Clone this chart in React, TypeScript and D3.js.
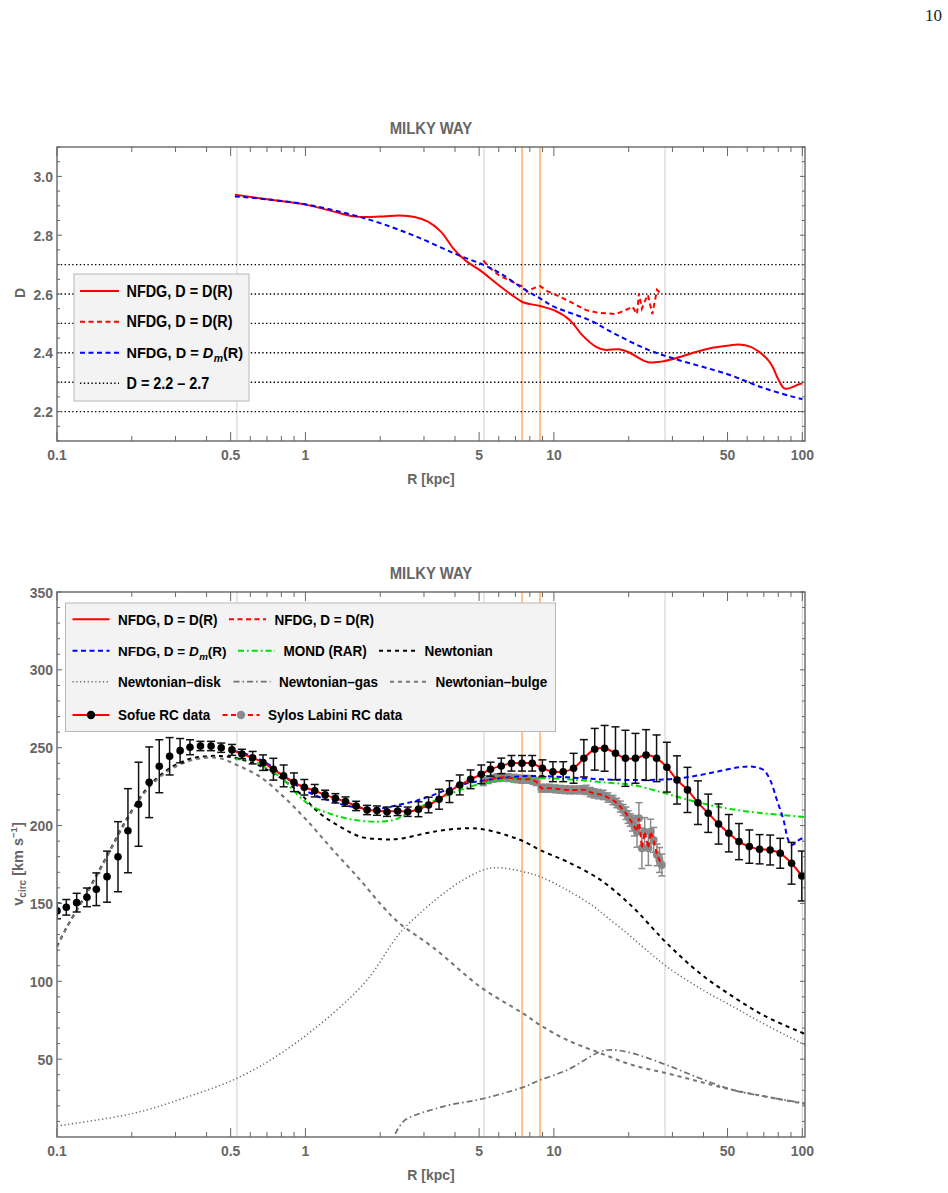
import { useEffect, useRef } from 'react';
import * as d3 from 'd3';

// ---- fractal dimension panel ----
const fitR = [0.52, 0.7, 1.0, 1.29, 1.56, 1.77, 2.06, 2.4, 2.75, 3.1, 3.5, 3.98, 4.47, 5.02, 6.0, 7.0, 7.5, 8.8, 10.0, 11.6, 13.0, 14.8, 16.0, 18.3, 20.0, 22.0, 24.0, 27.0, 30.5, 37.3, 44.0, 50.8, 55.6, 62.0, 67.0, 72.0, 76.0, 80.0, 85.0, 97.0, 100.0];
const fitD = [2.938, 2.922, 2.904, 2.881, 2.864, 2.862, 2.864, 2.867, 2.862, 2.847, 2.813, 2.75, 2.71, 2.682, 2.63, 2.588, 2.572, 2.559, 2.545, 2.511, 2.46, 2.42, 2.41, 2.412, 2.402, 2.382, 2.368, 2.37, 2.38, 2.403, 2.418, 2.425, 2.428, 2.42, 2.403, 2.38, 2.352, 2.31, 2.278, 2.293, 2.296];

const slDR = [5.2, 5.5, 6.04, 6.5, 7.0, 7.5, 7.8, 8.3, 8.8, 9.4, 10.06, 11.6, 13.5, 15.1, 17.8, 20.1, 20.7, 21.6, 22.0, 22.6, 23.2, 23.9, 24.9, 26.0, 27.2];
const slDD = [2.714, 2.69, 2.662, 2.65, 2.636, 2.625, 2.608, 2.62, 2.627, 2.61, 2.599, 2.574, 2.545, 2.536, 2.532, 2.551, 2.557, 2.532, 2.602, 2.55, 2.574, 2.597, 2.532, 2.614, 2.597];

const meanR = [0.52, 0.7, 1.0, 1.5, 2.0, 2.8, 4.0, 5.2, 6.1, 7.5, 8.8, 10.0, 13.9, 18.0, 24.0, 30.5, 50.0, 70.0, 94.0, 100.0];
const meanD = [2.932, 2.922, 2.905, 2.872, 2.841, 2.795, 2.737, 2.699, 2.67, 2.619, 2.585, 2.557, 2.511, 2.46, 2.41, 2.38, 2.327, 2.28, 2.248, 2.243];

const dBand = [2.2, 2.3, 2.4, 2.5, 2.6, 2.7];
const dMajor = [2.2, 2.4, 2.6, 2.8, 3.0];

// ---- rotation curve panel ----
const sofueR = [0.1, 0.109, 0.12, 0.132, 0.144, 0.159, 0.176, 0.193, 0.213, 0.235, 0.258, 0.284, 0.313, 0.343, 0.378, 0.417, 0.458, 0.506, 0.555, 0.613, 0.675, 0.743, 0.817, 0.899, 0.99, 1.09, 1.2, 1.32, 1.45, 1.6, 1.77, 1.94, 2.13, 2.35, 2.58, 2.85, 3.13, 3.45, 3.8, 4.18, 4.62, 5.1, 5.56, 6.14, 6.75, 7.44, 8.18, 8.99, 9.91, 10.9, 12.0, 13.2, 14.6, 16.0, 17.7, 19.4, 21.3, 23.5, 25.9, 28.5, 31.3, 34.5, 38.0, 41.8, 46.0, 50.6, 55.6, 61.2, 67.3, 74.2, 81.5, 90.5, 99.5];
const sofueV = [145.2, 147.5, 150.5, 153.9, 159.1, 167.2, 180.0, 196.7, 213.7, 227.8, 238.1, 244.5, 248.1, 250.3, 251.1, 251.1, 250.0, 248.6, 246.0, 243.6, 240.4, 236.2, 231.9, 227.8, 224.6, 222.4, 219.7, 217.5, 215.4, 212.6, 210.0, 209.6, 208.9, 209.4, 208.9, 210.5, 213.2, 216.9, 221.8, 226.1, 229.7, 232.9, 236.2, 238.3, 240.0, 240.0, 240.0, 236.8, 234.6, 234.6, 236.8, 243.2, 249.0, 249.6, 246.4, 243.2, 243.2, 245.3, 243.2, 237.5, 229.3, 222.9, 214.7, 207.9, 201.0, 195.1, 189.7, 186.5, 184.8, 184.3, 182.2, 175.8, 167.6];
const sofueErr = [5, 5, 6, 6, 10.5, 16.4, 22.5, 27, 27, 22.7, 17, 12, 7.8, 4.8, 3, 3, 3, 3.5, 3, 4, 5, 7, 7, 6, 5, 4, 3, 3, 3, 3, 3, 3, 3, 3, 3, 4.8, 5, 6.4, 7, 6.4, 6, 6, 4.5, 5, 5, 5, 5, 5.4, 6.4, 6.4, 9.6, 12, 13.4, 14.7, 17, 18, 16, 16.3, 15, 16, 15.5, 14.5, 14, 12.3, 12.9, 12, 11.6, 10.7, 9.4, 9.6, 9.6, 13.4, 16];

const sylosR = [5.2, 5.45, 5.7, 5.95, 6.2, 6.55, 6.9, 7.15, 7.4, 7.7, 8.0, 8.25, 8.5, 8.9, 9.25, 9.6, 10.1, 10.6, 11.1, 11.6, 12.1, 12.7, 13.1, 13.5, 14.0, 14.5, 15.1, 15.8, 16.5, 17.3, 17.9, 18.5, 19.0, 19.5, 19.9, 20.3, 20.7, 21.1, 21.6, 22.0, 22.6, 23.2, 24.0, 24.5, 25.2, 26.0, 26.6, 27.2];
const sylosV = [228.2, 229.5, 230.4, 230.8, 231.0, 230.8, 230.4, 230.0, 229.7, 229.7, 229.7, 229.0, 228.2, 224.0, 224.0, 224.0, 223.6, 223.3, 223.0, 222.9, 222.9, 222.9, 223.0, 222.9, 221.5, 220.7, 220.2, 219.7, 218.0, 216.4, 214.5, 212.2, 210.0, 207.9, 205.5, 203.6, 201.5, 199.3, 196.1, 204.7, 185.4, 196.1, 185.4, 196.1, 190.8, 181.2, 177.9, 174.7];
const sylosErr = [2.5, 2.5, 2.5, 2.5, 2.5, 2.5, 2.5, 2.5, 2.5, 2.5, 2.5, 2.5, 2.5, 2.5, 2.5, 2.5, 2.5, 2.5, 2.5, 2.5, 2.5, 2.5, 2.5, 3, 3, 3, 3, 3, 3, 3, 3, 3.5, 3.5, 4, 4, 4, 5, 6, 10, 10, 13, 9, 11, 8, 8, 7, 8, 7];

const dmR = [0.52, 0.6, 0.7, 0.8, 0.9, 1.0, 1.13, 1.29, 1.45, 1.77, 2.0, 2.41, 2.8, 3.28, 3.83, 4.48, 5.36, 6.6, 8.3, 11.3, 15.4, 20.7, 28.5, 35.5, 45.3, 56.0, 63.3, 69.8, 74.2, 79.0, 84.0, 87.7, 90.5, 98.0, 102.5];
const dmV = [247.8, 245, 240, 233, 227, 222.5, 218.5, 215.5, 213, 211, 211, 213.5, 216, 219.7, 224, 227.2, 229.3, 231.0, 231.9, 231.0, 229.7, 229.3, 229.7, 231.4, 234.6, 237.5, 237.8, 235.7, 229.3, 216.4, 203.6, 190.8, 187.5, 191.2, 192];

const mondR = [0.52, 0.6, 0.7, 0.82, 0.89, 1.04, 1.22, 1.52, 1.94, 2.27, 2.45, 2.9, 3.5, 4.2, 5.2, 6.6, 9.1, 12.3, 16.4, 20.7, 26.6, 33.0, 45.3, 61.2, 102.5];
const mondV = [242.6, 242, 236.8, 229.3, 222.9, 213.2, 208.3, 204.1, 202.5, 203.6, 206, 212.2, 217.5, 222.9, 227.2, 229.7, 230.4, 229.3, 227.6, 226.1, 221.8, 217.5, 212.2, 208.9, 205.5];

const newtR = [0.1, 0.109, 0.132, 0.159, 0.191, 0.23, 0.277, 0.333, 0.378, 0.454, 0.53, 0.656, 0.815, 0.95, 1.14, 1.38, 1.66, 2.05, 2.4, 3.28, 4.48, 5.36, 6.6, 7.5, 8.8, 11.3, 15.4, 20.7, 25.0, 28.5, 38.7, 52.6, 71.5, 102.5];
const newtV = [122.4, 134.2, 157, 180.6, 204.3, 223.7, 235.6, 242.2, 244.2, 244.7, 243.2, 238.3, 229.3, 220.7, 207.9, 199.3, 192.9, 191.2, 191.5, 196.1, 198.3, 197.2, 193.3, 190.1, 184.3, 176.8, 165.1, 147.9, 134.0, 124.4, 105.1, 90.1, 77.3, 66.2];

const diskR = [0.1, 0.203, 0.323, 0.53, 0.815, 1.29, 1.77, 2.4, 3.0, 3.5, 4.2, 5.2, 5.87, 7.5, 8.8, 11.3, 14.5, 16.4, 20.0, 24.0, 28.5, 38.7, 52.6, 71.5, 102.5];
const diskV = [7.1, 15.2, 24.9, 37.7, 54.8, 79.4, 100.8, 131, 146, 155, 164, 171.5, 173, 170.4, 167.2, 158.6, 147.9, 141, 130, 119, 109.4, 95.5, 83.7, 71.9, 59.1];

const gasR = [2.3, 2.35, 2.45, 2.55, 2.9, 3.28, 3.81, 5.05, 7.5, 8.8, 11.3, 15.4, 17.3, 20.7, 28.5, 38.7, 52.6, 71.5, 102.5];
const gasV = [2, 5, 9, 11.5, 15.2, 17.8, 20.6, 24.2, 31.9, 36.6, 43.0, 54.8, 55.9, 53.8, 46.2, 37.7, 30.2, 25.9, 21.6];

const bulgeR = [0.1, 0.109, 0.132, 0.159, 0.191, 0.23, 0.277, 0.333, 0.4, 0.454, 0.53, 0.656, 0.815, 1.01, 1.29, 1.66, 2.05, 2.4, 3.28, 5.05, 7.5, 8.8, 11.3, 15.4, 20.7, 28.5, 38.7, 52.6, 71.5, 102.5];
const bulgeV = [122.2, 134, 156.5, 180, 203.6, 222.9, 234.6, 241.0, 243.6, 243.2, 238.9, 231.4, 218.6, 203.6, 184.3, 165.1, 147.9, 137, 121.5, 96.5, 79.4, 71.9, 62.3, 53.8, 46.2, 40.9, 35.5, 30.2, 25.9, 21.2];

const vMajor = [50, 100, 150, 200, 250, 300, 350];

// ---- shared axis marks ----
const rMajor = [0.1, 0.5, 1, 5, 10, 50, 100];
const rMajorLabels = ['0.1', '0.5', '1', '5', '10', '50', '100'];
const rMinor = [0.2, 0.3, 0.4, 0.6, 0.7, 0.8, 0.9, 2, 3, 4, 6, 7, 8, 9, 20, 30, 40, 60, 70, 80, 90];
const edgeR = [0.53, 5.23, 28, 100];
const sunR = [7.45, 8.8];

const FONT = '"Liberation Sans", Arial, Helvetica, sans-serif';
const AXIS_GRAY = '#666';

type Style = { stroke: string; width: number; dash?: string };
const STY: Record<string, Style> = {
  fit: { stroke: '#ff0000', width: 2 },
  fitSL: { stroke: '#ff0000', width: 2, dash: '5,3.5' },
  dm: { stroke: '#0000ff', width: 2, dash: '5,3.5' },
  mond: { stroke: '#00e000', width: 2, dash: '6,3,1.8,3' },
  newt: { stroke: '#000', width: 2, dash: '4,4' },
  disk: { stroke: '#666', width: 1.5, dash: '1.2,2.6' },
  gas: { stroke: '#707070', width: 1.7, dash: '6,3,1.6,3' },
  bulge: { stroke: '#777', width: 2.1, dash: '4,4' },
  band: { stroke: '#000', width: 1.4, dash: '1.4,2.4' },
};

const zip = (xs: number[], ys: number[]) => xs.map((r, i) => [r, ys[i]] as [number, number]);

function applyStyle(sel: any, s: Style) {
  sel.attr('fill', 'none').attr('stroke', s.stroke).attr('stroke-width', s.width);
  if (s.dash) sel.attr('stroke-dasharray', s.dash);
  return sel;
}

// narrow the bold sans labels a little, the plot font is a tall condensed one
function squeeze(sel: any, k = 0.9) {
  sel.each(function (this: SVGTextElement) {
    if (this.querySelector('tspan')) return;
    const w = this.getComputedTextLength();
    this.setAttribute('textLength', String(w * k));
    this.setAttribute('lengthAdjust', 'spacingAndGlyphs');
  });
}

function drawFrame(g: any, x: any, y: any, yMajor: number[], yMinor: number[], fmt: (v: number) => string, title: string, yLabel: (t: any) => void, clipId: string) {
  const [x0, x1] = x.range();
  const [yb, yt] = y.range();

  g.append('clipPath').attr('id', clipId)
    .append('rect').attr('x', x0).attr('y', yt).attr('width', x1 - x0).attr('height', yb - yt);

  const ticks = g.append('g').attr('stroke', AXIS_GRAY).attr('stroke-width', 1);
  const xt = (list: number[], len: number) => list.forEach((t) => {
    ticks.append('line').attr('x1', x(t)).attr('x2', x(t)).attr('y1', yb).attr('y2', yb - len);
    ticks.append('line').attr('x1', x(t)).attr('x2', x(t)).attr('y1', yt).attr('y2', yt + len);
  });
  xt(rMinor, 5);
  xt(rMajor, 9);
  const yTick = (list: number[], len: number) => list.forEach((t) => {
    ticks.append('line').attr('x1', x0).attr('x2', x0 + len).attr('y1', y(t)).attr('y2', y(t));
    ticks.append('line').attr('x1', x1).attr('x2', x1 - len).attr('y1', y(t)).attr('y2', y(t));
  });
  yTick(yMinor, 3);
  yTick(yMajor, 5);

  g.append('rect').attr('x', x0).attr('y', yt).attr('width', x1 - x0).attr('height', yb - yt)
    .attr('fill', 'none').attr('stroke', AXIS_GRAY).attr('stroke-width', 1.4);

  const lab = g.append('g').attr('font-family', FONT).attr('font-weight', 'bold').attr('fill', AXIS_GRAY).attr('font-size', 15.5);
  rMajor.forEach((t, i) => {
    lab.append('text').attr('x', x(t)).attr('y', yb + 19).attr('text-anchor', 'middle').text(rMajorLabels[i]);
  });
  yMajor.forEach((t) => {
    lab.append('text').attr('x', x0 - 4).attr('y', y(t)).attr('dy', '0.36em').attr('text-anchor', 'end').text(fmt(t));
  });
  lab.append('text').attr('x', (x0 + x1) / 2).attr('y', yb + 43).attr('text-anchor', 'middle').text('R [kpc]');
  lab.append('text').attr('x', (x0 + x1) / 2).attr('y', yt - 13).attr('text-anchor', 'middle').attr('font-size', 16.5).text(title);
  yLabel(lab);
}

function refLines(g: any, x: any, y: any) {
  const [yb, yt] = y.range();
  edgeR.forEach((r) => {
    g.append('line').attr('x1', x(r)).attr('x2', x(r)).attr('y1', yt).attr('y2', yb)
      .attr('stroke', '#cfcfcf').attr('stroke-width', 1);
  });
  sunR.forEach((r) => {
    g.append('line').attr('x1', x(r)).attr('x2', x(r)).attr('y1', yt).attr('y2', yb)
      .attr('stroke', '#ffc088').attr('stroke-width', 2);
  });
}

function sample(g: any, x0: number, yc: number, len: number, s: Style) {
  applyStyle(g.append('line').attr('x1', x0).attr('x2', x0 + len).attr('y1', yc).attr('y2', yc), s);
}

// label "NFDG, D = D_m(R)" with an italic subscripted D_m
function dmLabel(t: any, size: number) {
  t.attr('font-size', size);
  t.append('tspan').text('NFDG, D = ');
  t.append('tspan').attr('font-style', 'italic').text('D');
  t.append('tspan').attr('font-style', 'italic').attr('font-size', size * 0.72).attr('dx', 0.5).attr('dy', 4).text('m');
  t.append('tspan').attr('dy', -4).text('(R)');
}

function drawDimension(root: any) {
  const x = d3.scaleLog().domain([0.1, 102.5]).range([57, 805]);
  const y = d3.scaleLinear().domain([2.1, 3.1]).range([441, 147]);
  const g = root.append('g');
  const plot = g.append('g').attr('clip-path', 'url(#clipD)');

  refLines(plot, x, y);
  dBand.forEach((d) => {
    applyStyle(plot.append('line').attr('x1', 57).attr('x2', 805).attr('y1', y(d)).attr('y2', y(d)), STY.band);
  });

  const line = d3.line<[number, number]>().x((d) => x(d[0])).y((d) => y(d[1])).curve(d3.curveCatmullRom.alpha(0.5));
  const jagged = d3.line<[number, number]>().x((d) => x(d[0])).y((d) => y(d[1]));
  applyStyle(plot.append('path').attr('d', line(zip(fitR, fitD))), STY.fit);
  applyStyle(plot.append('path').attr('d', jagged(zip(slDR, slDD))), STY.fitSL);
  applyStyle(plot.append('path').attr('d', line(zip(meanR, meanD))), STY.dm);

  // legend
  const lg = g.append('g');
  lg.append('rect').attr('x', 74).attr('y', 274).attr('width', 175).attr('height', 127)
    .attr('fill', '#f3f3f3').attr('stroke', '#b8b8b8').attr('stroke-width', 1);
  const rows: [string, number][] = [['fit', 291], ['fitSL', 321.7], ['dm', 352.7], ['band', 383.3]];
  rows.forEach(([k, yc]) => sample(lg, 80, yc, 39, STY[k]));
  const txt = (yc: number) => lg.append('text').attr('x', 126.5).attr('y', yc).attr('dy', '0.36em')
    .attr('font-family', FONT).attr('font-weight', 'bold').attr('font-size', 16).attr('fill', '#000');
  txt(291).text('NFDG, D = D(R)');
  txt(321.7).text('NFDG, D = D(R)');
  dmLabel(txt(352.7), 14.5);
  txt(383.3).text('D = 2.2 \u2013 2.7');

  drawFrame(g, x, y, dMajor, d3.range(2.1, 3.1001, 0.05).filter((v) => !dMajor.some((m) => Math.abs(m - v) < 1e-6)),
    (v) => v.toFixed(1), 'MILKY WAY', (lab) => {
      lab.append('text').attr('transform', 'translate(25,293) rotate(-90)').attr('text-anchor', 'middle').text('D');
    }, 'clipD');
}

function drawVelocity(root: any) {
  const x = d3.scaleLog().domain([0.1, 102.5]).range([57, 805]);
  const y = d3.scaleLinear().domain([0, 350]).range([1137, 592]);
  const g = root.append('g');
  const plot = g.append('g').attr('clip-path', 'url(#clipV)');

  refLines(plot, x, y);

  const smooth = d3.line<[number, number]>().x((d) => x(d[0])).y((d) => y(d[1])).curve(d3.curveCatmullRom.alpha(0.5));
  const straight = d3.line<[number, number]>().x((d) => x(d[0])).y((d) => y(d[1]));

  applyStyle(plot.append('path').attr('d', smooth(zip(newtR, newtV))), STY.newt);
  applyStyle(plot.append('path').attr('d', smooth(zip(diskR, diskV))), STY.disk);
  applyStyle(plot.append('path').attr('d', smooth(zip(gasR, gasV))), STY.gas);
  applyStyle(plot.append('path').attr('d', smooth(zip(bulgeR, bulgeV))), STY.bulge);

  // Sylos Labini points
  const sl = plot.append('g');
  sylosR.forEach((r, i) => {
    const cx = x(r);
    const lo = y(sylosV[i] - sylosErr[i]);
    const hi = y(sylosV[i] + sylosErr[i]);
    sl.append('line').attr('x1', cx).attr('x2', cx).attr('y1', lo).attr('y2', hi).attr('stroke', '#8a8a8a').attr('stroke-width', 1.5);
    [lo, hi].forEach((yy) => sl.append('line').attr('x1', cx - 3.5).attr('x2', cx + 3.5).attr('y1', yy).attr('y2', yy).attr('stroke', '#8a8a8a').attr('stroke-width', 1.5));
    sl.append('circle').attr('cx', cx).attr('cy', y(sylosV[i])).attr('r', 4).attr('fill', '#8a8a8a');
  });

  applyStyle(plot.append('path').attr('d', smooth(zip(mondR, mondV))), STY.mond);
  applyStyle(plot.append('path').attr('d', smooth(zip(dmR, dmV))), STY.dm);
  applyStyle(plot.append('path').attr('d', straight(zip(sylosR, sylosV))), STY.fitSL);

  // Sofue points: error bars, fitted curve, then the dots on top
  const sf = plot.append('g');
  sofueR.forEach((r, i) => {
    const cx = x(r);
    const lo = y(sofueV[i] - sofueErr[i]);
    const hi = y(sofueV[i] + sofueErr[i]);
    sf.append('line').attr('x1', cx).attr('x2', cx).attr('y1', lo).attr('y2', hi).attr('stroke', '#111').attr('stroke-width', 1.5);
    [lo, hi].forEach((yy) => sf.append('line').attr('x1', cx - 4).attr('x2', cx + 4).attr('y1', yy).attr('y2', yy).attr('stroke', '#111').attr('stroke-width', 1.5));
  });
  const fitPts = zip(sofueR, sofueV).filter((d) => d[0] >= 0.5);
  applyStyle(plot.append('path').attr('d', smooth(fitPts)), STY.fit);
  const dots = plot.append('g');
  sofueR.forEach((r, i) => {
    dots.append('circle').attr('cx', x(r)).attr('cy', y(sofueV[i])).attr('r', 3.8).attr('fill', '#000');
  });

  // legend
  const lg = g.append('g');
  lg.append('rect').attr('x', 65.5).attr('y', 603).attr('width', 490).attr('height', 128.5)
    .attr('fill', '#f3f3f3').attr('stroke', '#b8b8b8').attr('stroke-width', 1);
  const items: { k: string; x: number; y: number; label: string; dot?: string }[] = [
    { k: 'fit', x: 72.5, y: 619.3, label: 'NFDG, D = D(R)' },
    { k: 'fitSL', x: 229, y: 619.3, label: 'NFDG, D = D(R)' },
    { k: 'dm', x: 72.5, y: 650.7, label: 'DM' },
    { k: 'mond', x: 238, y: 650.7, label: 'MOND (RAR)' },
    { k: 'newt', x: 379, y: 650.7, label: 'Newtonian' },
    { k: 'disk', x: 72.5, y: 681.7, label: 'Newtonian\u2013disk' },
    { k: 'gas', x: 233.5, y: 681.7, label: 'Newtonian\u2013gas' },
    { k: 'bulge', x: 390, y: 681.7, label: 'Newtonian\u2013bulge' },
    { k: 'fit', x: 72.5, y: 715, label: 'Sofue RC data', dot: '#000' },
    { k: 'fitSL', x: 222.5, y: 715, label: 'Sylos Labini RC data', dot: '#8a8a8a' },
  ];
  items.forEach((it) => {
    sample(lg, it.x, it.y, 37, STY[it.k]);
    if (it.dot) lg.append('circle').attr('cx', it.x + 18.5).attr('cy', it.y).attr('r', 4.2).attr('fill', it.dot);
    const t = lg.append('text').attr('x', it.x + 45.5).attr('y', it.y).attr('dy', '0.36em')
      .attr('font-family', FONT).attr('font-weight', 'bold').attr('font-size', 15).attr('fill', '#000');
    if (it.label === 'DM') dmLabel(t, 13.5);
    else t.text(it.label);
  });

  drawFrame(g, x, y, vMajor, d3.range(10, 350, 10).filter((v) => v % 50 !== 0), (v) => String(v), 'MILKY WAY', (lab) => {
    const t = lab.append('text').attr('transform', 'translate(23,864) rotate(-90)').attr('text-anchor', 'middle').attr('font-size', 14.5);
    t.append('tspan').text('v');
    t.append('tspan').attr('font-size', 10).attr('dy', 3).text('circ');
    t.append('tspan').attr('dy', -3).text(' [km s');
    t.append('tspan').attr('font-size', 9.5).attr('dy', -6).text('\u22121');
    t.append('tspan').attr('dy', 6).text(']');
  }, 'clipV');
}

export default function App() {
  const ref = useRef<SVGSVGElement>(null);

  useEffect(() => {
    const svg = d3.select(ref.current);
    svg.selectAll('*').remove();
    svg.append('rect').attr('width', 948).attr('height', 1193).attr('fill', '#fff');
    drawDimension(svg);
    drawVelocity(svg);
    squeeze(svg.selectAll('text'));
    svg.append('text').attr('x', 942).attr('y', 21).attr('text-anchor', 'end')
      .attr('font-family', '"Liberation Serif", "DejaVu Serif", serif').attr('font-size', 17).attr('fill', '#222')
      .text('10');
  }, []);

  return (
    <svg
      ref={ref}
      width={948}
      height={1193}
      style={{ position: 'absolute', left: 0, top: 0, display: 'block' }}
    />
  );
}
